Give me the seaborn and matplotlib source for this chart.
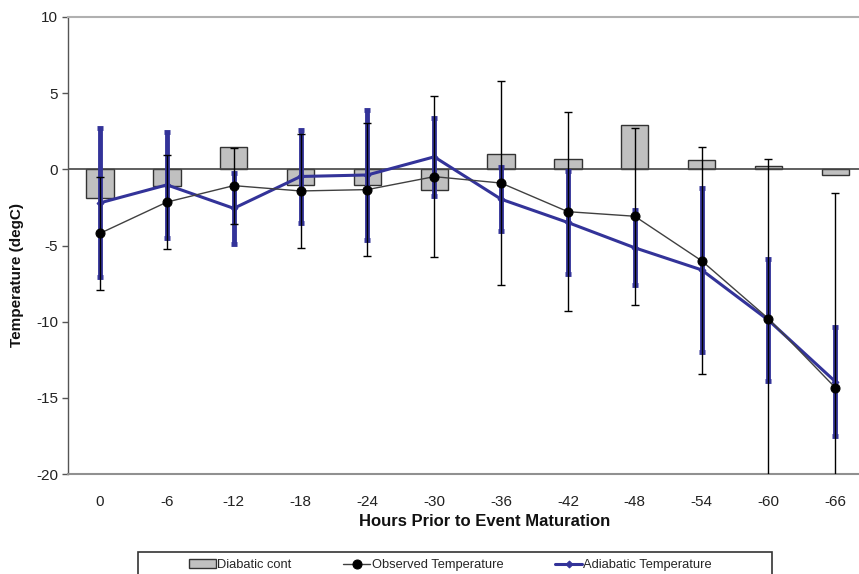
import numpy as np
import pandas as pd
import matplotlib
matplotlib.use("Agg")
import matplotlib.pyplot as plt
import seaborn as sns
from matplotlib.patches import Rectangle

# ---- data ----
hours = ["0", "-6", "-12", "-18", "-24", "-30", "-36", "-42", "-48", "-54", "-60", "-66"]
diabatic = [-1.85, -1.1, 1.45, -1.0, -1.05, -1.35, 1.0, 0.7, 2.9, 0.6, 0.2, -0.4]
observed = [-4.2, -2.15, -1.07, -1.42, -1.33, -0.48, -0.9, -2.78, -3.08, -6.0, -9.8, -14.33]
observed_err = [3.7, 3.1, 2.5, 3.77, 4.37, 5.27, 6.67, 6.52, 5.8, 7.45, 10.5, 12.8]
adiabatic = [-2.2, -1.02, -2.56, -0.47, -0.37, 0.82, -1.96, -3.49, -5.15, -6.6, -9.9, -13.93]
adiabatic_err = [4.9, 3.48, 2.34, 3.03, 4.29, 2.57, 2.11, 3.36, 2.45, 5.4, 4.0, 3.6]
yticks = [-20, -15, -10, -5, 0, 5, 10]

sns.set_theme(style="white")
plt.rcParams["font.family"] = ["Liberation Sans", "DejaVu Sans"]
plt.rcParams["axes.unicode_minus"] = False

blue = "#333399"

fig = plt.figure(figsize=(8.59, 5.74), dpi=100)
ax = fig.add_axes([68 / 859, 1 - 474 / 574, (870 - 68) / 859, (474 - 17) / 574])

df = pd.DataFrame({"hours": hours, "diabatic": diabatic})
sns.barplot(data=df, x="hours", y="diabatic", order=hours, color="#c0c0c0",
            saturation=1, width=0.41, edgecolor="#333333", linewidth=1,
            label="Diabatic cont", ax=ax, zorder=1.5)

ax.axhline(0, color="#444444", lw=1.2, zorder=2)

pos = np.arange(len(hours))
ax.errorbar(pos, adiabatic, yerr=adiabatic_err, fmt="none", ecolor=blue,
            elinewidth=3.5, capsize=2.2, capthick=3.5, zorder=3)
sns.lineplot(x=pos, y=adiabatic, color=blue, lw=2.2, marker="D", markersize=3.5,
             markeredgecolor=blue, markerfacecolor=blue,
             label="Adiabatic Temperature", ax=ax, zorder=4)
ax.errorbar(pos, observed, yerr=observed_err, fmt="none", ecolor="black",
            elinewidth=1, capsize=3, capthick=1, zorder=5)
sns.lineplot(x=pos, y=observed, color="#404040", lw=1, marker="o", markersize=6.5,
             markerfacecolor="black", markeredgecolor="black",
             label="Observed Temperature", ax=ax, zorder=6)

ax.set_ylim(-20, 10)
ax.set_xlim(-0.48, 11.52)
ax.set_yticks(yticks)
ax.set_xticks(pos)
ax.set_xticklabels(hours)
ax.set_xlabel("")
ax.set_ylabel("")

ax.spines["right"].set_visible(False)
ax.spines["top"].set_color("#b0b0b0")
ax.spines["top"].set_linewidth(1.5)
ax.spines["bottom"].set_color("#909090")
ax.spines["bottom"].set_linewidth(1.5)
ax.spines["left"].set_color("#555555")
ax.spines["left"].set_linewidth(1)

ax.tick_params(axis="y", left=True, length=4, width=1, color="#555555",
               direction="out", labelsize=11, pad=3, labelcolor="#222222")
ax.tick_params(axis="x", bottom=False, labelsize=11, pad=9, labelcolor="#222222")

if ax.legend_ is not None:
    ax.legend_.remove()

h, l = ax.get_legend_handles_labels()
hd = dict(zip(l, h))
order = ["Diabatic cont", "Observed Temperature", "Adiabatic Temperature"]
fig.legend([hd[k] for k in order], order, loc="center left",
           bbox_to_anchor=(189 / 859, 1 - 565 / 574), ncol=3, frameon=False,
           fontsize=9.3, handlelength=2.1, handletextpad=0.1, columnspacing=4.0,
           borderpad=0, borderaxespad=0)
fig.patches.append(Rectangle((138 / 859, 1 - 585 / 574), (772 - 138) / 859, 33 / 574,
                             transform=fig.transFigure, fill=False,
                             edgecolor="#333333", lw=1.2))

fig.text(485 / 859, 1 - 522 / 574, "Hours Prior to Event Maturation",
         ha="center", va="center", fontsize=12, fontweight="bold", color="#111111")
fig.text(17 / 859, 1 - 275 / 574, "Temperature (degC)", rotation=90,
         ha="center", va="center", fontsize=11, fontweight="bold", color="#111111")

fig.savefig("out.png", dpi=100)
